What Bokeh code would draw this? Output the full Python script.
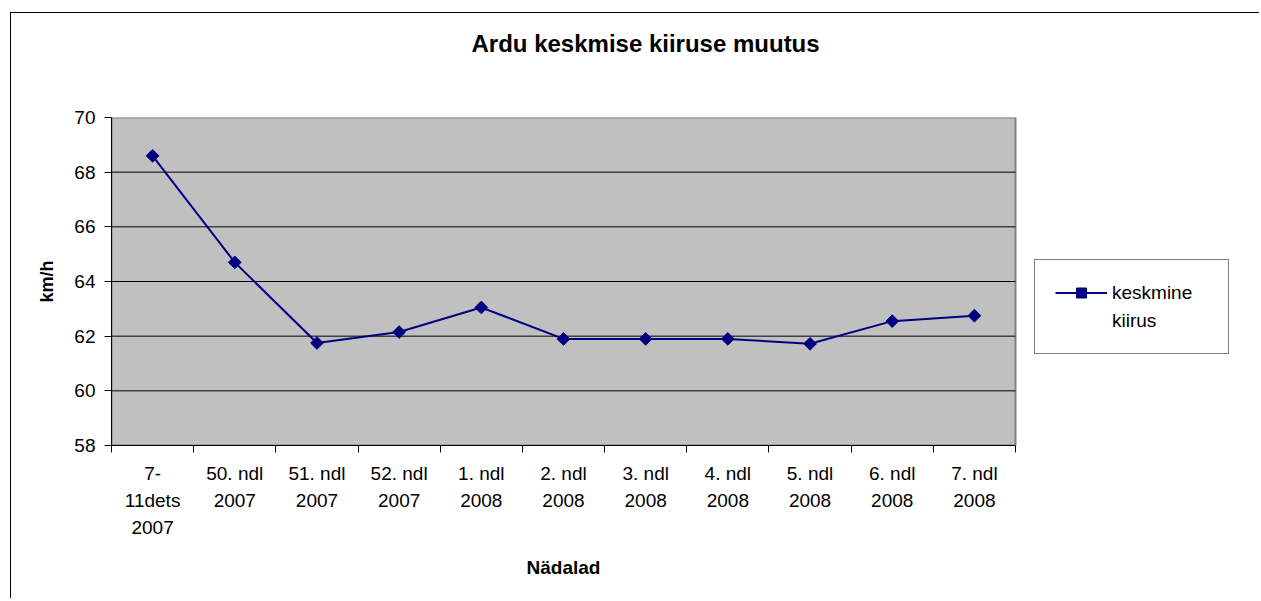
import math
from bokeh.plotting import figure
from bokeh.models import FixedTicker, Legend, LegendItem, Range1d, Title
from bokeh.embed import file_html
from bokeh.resources import INLINE

categories = ["7-\n11dets\n2007", "50. ndl\n2007", "51. ndl\n2007", "52. ndl\n2007",
              "1. ndl\n2008", "2. ndl\n2008", "3. ndl\n2008", "4. ndl\n2008",
              "5. ndl\n2008", "6. ndl\n2008", "7. ndl\n2008"]
speed = [68.6, 64.7, 61.75, 62.15, 63.05, 61.9, 61.9, 61.9, 61.72, 62.55, 62.75]
y_ticks = [58, 60, 62, 64, 66, 68, 70]
series_label_lines = ["keskmine", "kiirus"]
title_text = "Ardu keskmise kiiruse muutus"
x_title = "Nädalad"
y_title = "km/h"

n = len(categories)
xs = list(range(n))
FONT = "Liberation Sans"

# layout (pixels)
W, H = 1249, 586
LEFT, TOP, BOTTOM = 100, 104, 154
PLOT_W = 904                 # width of the grey plot area
FRAME_W = W - LEFT           # frame reaches the right edge (room for the legend)
x_lo = -0.5
x_hi_area = n - 0.5
x_hi_frame = x_lo + (x_hi_area - x_lo) * FRAME_W / PLOT_W

p = figure(width=W, height=H,
           x_range=Range1d(x_lo, x_hi_frame), y_range=Range1d(y_ticks[0], y_ticks[-1]),
           output_backend="svg", toolbar_location=None,
           min_border_left=LEFT, min_border_right=0, min_border_top=TOP, min_border_bottom=BOTTOM,
           background_fill_color="white", border_fill_color="white")
p.styles = {"border-left": "1px solid black", "border-top": "1px solid black",
            "margin-left": "10px", "margin-top": "12px"}
p.outline_line_color = None

# spacer between frame and title (closest to frame), then the title
p.add_layout(Title(text=" ", text_font_size="10px", standoff=48), "above")
p.add_layout(Title(text=title_text, text_font=FONT, text_font_style="bold",
                   text_font_size="24px", text_color="black", align="left",
                   offset=360, standoff=0), "above")

# grey plot area and horizontal gridlines
p.quad(left=[x_lo], right=[x_hi_area], bottom=[y_ticks[0]], top=[y_ticks[-1]],
       fill_color="#C0C0C0", line_color="#808080", line_width=2)
inner = y_ticks[1:-1]
p.segment(x0=[x_lo] * len(inner), x1=[x_hi_area] * len(inner), y0=inner, y1=inner,
          line_color="black", line_width=1)

# x axis
xa = p.xaxis[0]
xa.bounds = (x_lo, x_hi_area)
xa.ticker = FixedTicker(ticks=xs, minor_ticks=[i - 0.5 for i in range(n + 1)])
xa.major_label_overrides = {i: c for i, c in enumerate(categories)}
xa.major_tick_out = 0
xa.major_tick_in = 0
xa.minor_tick_out = 7
xa.minor_tick_in = 0
xa.minor_tick_line_color = "black"
xa.axis_line_color = "black"
xa.major_label_text_font = FONT
xa.major_label_text_font_size = "19px"
xa.major_label_text_line_height = 1.3
xa.major_label_text_color = "black"
xa.major_label_standoff = 10

# x axis title, centred under the grey plot area
p.add_layout(Title(text=x_title, text_font=FONT, text_font_style="bold",
                   text_font_size="19px", text_color="black", align="left",
                   offset=PLOT_W / 2 - 37, vertical_align="top", standoff=30), "below")

# y axis
ya = p.yaxis[0]
ya.ticker = FixedTicker(ticks=y_ticks)
ya.major_tick_out = 7
ya.major_tick_in = 0
ya.minor_tick_out = 0
ya.minor_tick_in = 0
ya.axis_line_color = "black"
ya.major_tick_line_color = "black"
ya.major_label_text_font = FONT
ya.major_label_text_font_size = "19px"
ya.major_label_text_color = "black"
ya.major_label_standoff = 9
ya.axis_label = y_title
ya.axis_label_text_font = FONT
ya.axis_label_text_font_style = "bold"
ya.axis_label_text_font_size = "18px"
ya.axis_label_text_color = "black"
ya.axis_label_standoff = 14

p.xgrid.visible = False
p.ygrid.visible = False

r_line = p.line(xs, speed, line_color="#000080", line_width=2)
r_mark = p.scatter(xs, speed, marker="square", angle=math.pi / 4, size=9,
                   fill_color="#000080", line_color="#000080")

items = [LegendItem(label=series_label_lines[0], renderers=[r_line, r_mark]),
         LegendItem(label=series_label_lines[1], renderers=[])]
legend = Legend(items=items,
                location=(PLOT_W + 19, 91), margin=0, padding=20, spacing=3,
                border_line_color="black", border_line_width=1,
                glyph_width=52, glyph_height=25, label_height=25,
                label_width=96, label_standoff=5,
                label_text_font=FONT, label_text_font_size="19px",
                label_text_color="black",
                background_fill_color="white", background_fill_alpha=1.0)
p.add_layout(legend, "center")

open("out.html", "w").write(file_html(p, INLINE))
